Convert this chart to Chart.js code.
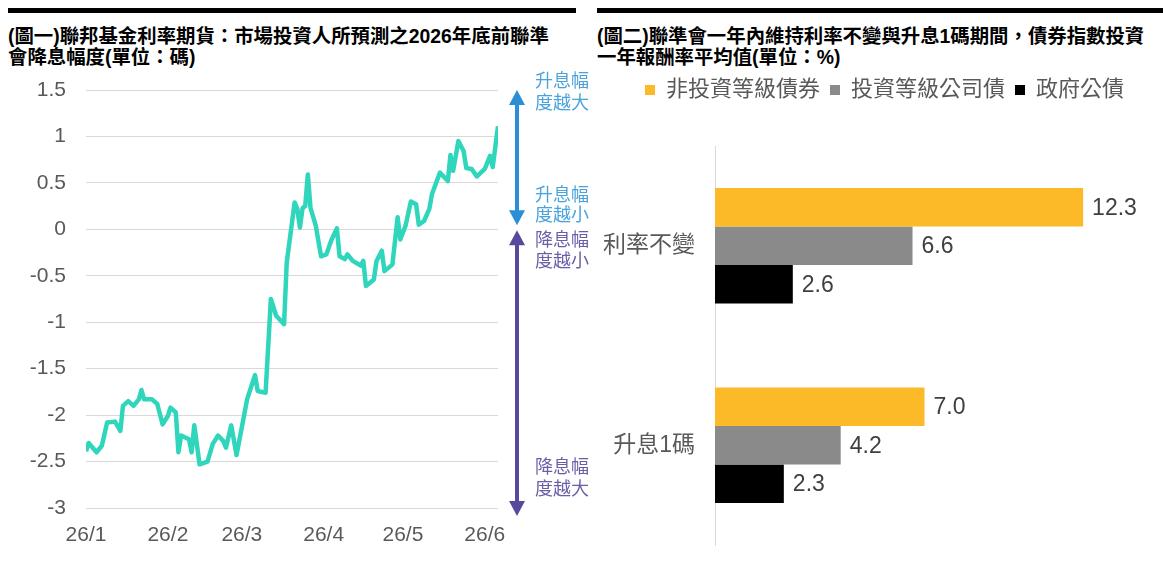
<!DOCTYPE html>
<html>
<head>
<meta charset="utf-8">
<script src="https://cdn.jsdelivr.net/npm/chart.js@4.4.0/dist/chart.umd.min.js"></script>
<style>
  html, body { margin: 0; padding: 0; background: #fff; }
  body { width: 1163px; height: 570px; position: relative; overflow: hidden;
         font-family: 'Liberation Sans', 'Noto Sans CJK TC', sans-serif; }
  .rule { position: absolute; top: 8px; height: 5px; background: #000; }
  .title { position: absolute; top: 26px; font-weight: bold; font-size: 19.4px; line-height: 21px; color: #000; white-space: nowrap; }
  .box { position: absolute; }
</style>
</head>
<body>
<div class="rule" style="left:8px;width:568px"></div>
<div class="rule" style="left:597px;width:566px"></div>
<div class="title" style="left:8px">(圖一)聯邦基金利率期貨：市場投資人所預測之2026年底前聯準<br>會降息幅度(單位：碼)</div>
<div class="title" style="left:597px">(圖二)聯準會一年內維持利率不變與升息1碼期間，債券指數投資<br>一年報酬率平均值(單位：%)</div>
<div class="box" style="left:0;top:70px;width:600px;height:500px"><canvas id="futures"></canvas></div>
<div class="box" style="left:590px;top:65px;width:573px;height:505px"><canvas id="bonds"></canvas></div>

<script>
// fed funds futures: implied cuts (units of 25bp) by end of 2026
const lineDates = ['01-01','01-02','01-05','01-07','01-09','01-12','01-14','01-15','01-17','01-19',
  '01-21','01-22','01-23','01-26','01-28','01-30','02-01','02-02','02-04','02-05',
  '02-06','02-09','02-10','02-11','02-13','02-16','02-18','02-20','02-22','02-23',
  '02-25','02-27','03-03','03-06','03-07','03-10','03-12','03-14','03-17','03-18',
  '03-21','03-22','03-23','03-24','03-25','03-26','03-27','03-29','03-31','04-02',
  '04-04','04-06','04-07','04-09','04-10','04-12','04-15','04-16','04-17','04-20',
  '04-21','04-23','04-24','04-27','04-29','04-30','05-02','05-04','05-06','05-07',
  '05-09','05-11','05-12','05-15','05-18','05-19','05-20','05-22','05-24','05-25',
  '05-27','05-29','06-01','06-03','06-04','06-06'];
const lineValues = [-2.39,-2.30,-2.40,-2.33,-2.08,-2.07,-2.17,-1.90,-1.85,-1.90,
  -1.83,-1.73,-1.83,-1.83,-1.88,-2.10,-2.01,-1.92,-1.97,-2.40,
  -2.22,-2.26,-2.40,-2.11,-2.53,-2.50,-2.31,-2.22,-2.28,-2.35,
  -2.11,-2.43,-1.83,-1.57,-1.74,-1.76,-0.75,-0.93,-1.02,-0.36,
  0.29,0.22,0.02,0.23,0.25,0.59,0.23,0.04,-0.29,-0.27,
  -0.11,0.01,-0.29,-0.32,-0.27,-0.34,-0.39,-0.34,-0.61,-0.54,
  -0.34,-0.23,-0.45,-0.38,0.13,-0.11,0.04,0.30,0.27,0.05,
  0.09,0.22,0.38,0.61,0.52,0.80,0.63,0.95,0.84,0.66,
  0.65,0.57,0.65,0.79,0.67,1.11];
const monthTicks = ['01-01','02-01','03-01','04-01','05-01','06-01'];
const monthLabels = ['26/1','26/2','26/3','26/4','26/5','26/6'];

// bond index average 1y returns (%)
const scenarios = ['利率不變', '升息1碼'];
const seriesNames = ['非投資等級債券', '投資等級公司債', '政府公債'];
const highYield = [12.3, 7.0];
const igCorp = [6.6, 4.2];
const govt = [2.6, 2.3];

const FONT = "'Liberation Sans', 'Noto Sans CJK TC', sans-serif";
Chart.defaults.font.family = FONT;
Chart.defaults.color = '#595959';

function dayOf(md) {
    const [m, d] = md.split('-').map(Number);
    return (Date.UTC(2026, m - 1, d) - Date.UTC(2026, 0, 1)) / 864e5;
}

function drawArrow(ctx, x, top, bottom, color) {
    const head = 15, half = 8;
    ctx.save();
    ctx.strokeStyle = color;
    ctx.fillStyle = color;
    ctx.lineWidth = 4;
    ctx.beginPath();
    ctx.moveTo(x, top + head - 2);
    ctx.lineTo(x, bottom - head + 2);
    ctx.stroke();
    ctx.beginPath();
    ctx.moveTo(x, top);
    ctx.lineTo(x - half, top + head);
    ctx.lineTo(x + half, top + head);
    ctx.closePath();
    ctx.fill();
    ctx.beginPath();
    ctx.moveTo(x, bottom);
    ctx.lineTo(x - half, bottom - head);
    ctx.lineTo(x + half, bottom - head);
    ctx.closePath();
    ctx.fill();
    ctx.restore();
}

const rateArrows = {
    id: 'rateArrows',
    afterDraw(chart) {
        const {ctx, chartArea, scales: {y}} = chart;
        const ax = chartArea.right + 19;
        const yTop = y.getPixelForValue(1.5), yZero = y.getPixelForValue(0), yBot = y.getPixelForValue(-3);
        drawArrow(ctx, ax, yTop, yZero - 4, '#2a8fd6');
        drawArrow(ctx, ax, yZero + 1, yBot + 8, '#574a9e');
        ctx.save();
        ctx.font = '18px ' + FONT;
        ctx.textAlign = 'left';
        ctx.textBaseline = 'middle';
        const tx = ax + 18;
        ctx.fillStyle = '#4aa3dc';
        ctx.fillText('升息幅', tx, yTop - 8);
        ctx.fillText('度越大', tx, yTop + 14);
        ctx.fillText('升息幅', tx, yZero - 33);
        ctx.fillText('度越小', tx, yZero - 13);
        ctx.fillStyle = '#6a5ea8';
        ctx.fillText('降息幅', tx, yZero + 12);
        ctx.fillText('度越小', tx, yZero + 33);
        ctx.fillText('降息幅', tx, yBot - 40);
        ctx.fillText('度越大', tx, yBot - 18);
        ctx.restore();
    }
};

new Chart(document.getElementById('futures'), {
    type: 'line',
    data: {
        datasets: [{
            data: lineDates.map((d, i) => ({x: dayOf(d), y: lineValues[i]})),
            borderColor: '#2fd6bb',
            borderWidth: 4.5,
            borderJoinStyle: 'round',
            pointRadius: 0,
            tension: 0
        }]
    },
    options: {
        responsive: true,
        maintainAspectRatio: false,
        animation: false,
        layout: { padding: { top: 20, right: 102, bottom: 0, left: 0 } },
        plugins: { legend: { display: false }, tooltip: { enabled: false } },
        scales: {
            x: {
                type: 'linear',
                min: dayOf(lineDates[0]),
                max: dayOf(lineDates[lineDates.length - 1]),
                grid: { display: false },
                border: { display: false },
                afterBuildTicks: (scale) => { scale.ticks = monthTicks.map(m => ({value: dayOf(m)})); },
                afterFit: (scale) => { scale.height = 62; },
                ticks: {
                    autoSkip: false,
                    maxRotation: 0,
                    padding: 7,
                    font: { size: 21 },
                    color: '#595959',
                    callback: (value, index) => monthLabels[index]
                }
            },
            y: {
                min: -3,
                max: 1.5,
                // transparent tick marks give the label gap without inflating top padding
                grid: { color: '#d9d9d9', lineWidth: 1, drawTicks: true, tickLength: 20, tickColor: 'rgba(0,0,0,0)' },
                border: { display: false },
                afterFit: (scale) => { scale.width = 86; },
                ticks: {
                    stepSize: 0.5,
                    padding: 0,
                    font: { size: 21 },
                    color: '#595959',
                    callback: (value) => String(Math.round(value * 10) / 10)
                }
            }
        }
    },
    plugins: [rateArrows]
});

const valueLabels = {
    id: 'valueLabels',
    afterDatasetsDraw(chart) {
        const ctx = chart.ctx;
        ctx.save();
        ctx.font = '23px ' + FONT;
        ctx.fillStyle = '#404040';
        ctx.textAlign = 'left';
        ctx.textBaseline = 'middle';
        chart.data.datasets.forEach((ds, i) => {
            chart.getDatasetMeta(i).data.forEach((bar, j) => {
                ctx.fillText(ds.data[j].toFixed(1), bar.x + 9, bar.y + 1);
            });
        });
        ctx.restore();
    }
};

const legendGap = {
    id: 'legendGap',
    beforeInit(chart) {
        const fit = chart.legend.fit;
        chart.legend.fit = function () {
            fit.bind(chart.legend)();
            this.height += 35;
        };
    }
};

new Chart(document.getElementById('bonds'), {
    type: 'bar',
    data: {
        labels: scenarios,
        datasets: [
            { label: seriesNames[0], data: highYield, backgroundColor: '#fcba28' },
            { label: seriesNames[1], data: igCorp, backgroundColor: '#8a8a8a' },
            { label: seriesNames[2], data: govt, backgroundColor: '#000000' }
        ]
    },
    options: {
        indexAxis: 'y',
        responsive: true,
        maintainAspectRatio: false,
        animation: false,
        barPercentage: 1,
        categoryPercentage: 0.578,
        layout: { padding: { top: 4, right: 29, bottom: 25, left: 0 } },
        plugins: {
            tooltip: { enabled: false },
            legend: {
                position: 'top',
                align: 'end',
                labels: {
                    boxWidth: 10,
                    boxHeight: 10,
                    padding: 10,
                    color: '#595959',
                    font: { size: 22 }
                }
            }
        },
        scales: {
            x: { display: false, min: 0, max: 14 },
            y: {
                grid: { display: true, drawOnChartArea: false, drawTicks: true, tickLength: 20, tickColor: 'rgba(0,0,0,0)' },
                border: { display: true, color: '#d9d9d9', width: 1 },
                afterFit: (scale) => { scale.width = 125; },
                ticks: { padding: 0, font: { size: 23 }, color: '#595959' }
            }
        }
    },
    plugins: [valueLabels, legendGap]
});
</script>
</body>
</html>
